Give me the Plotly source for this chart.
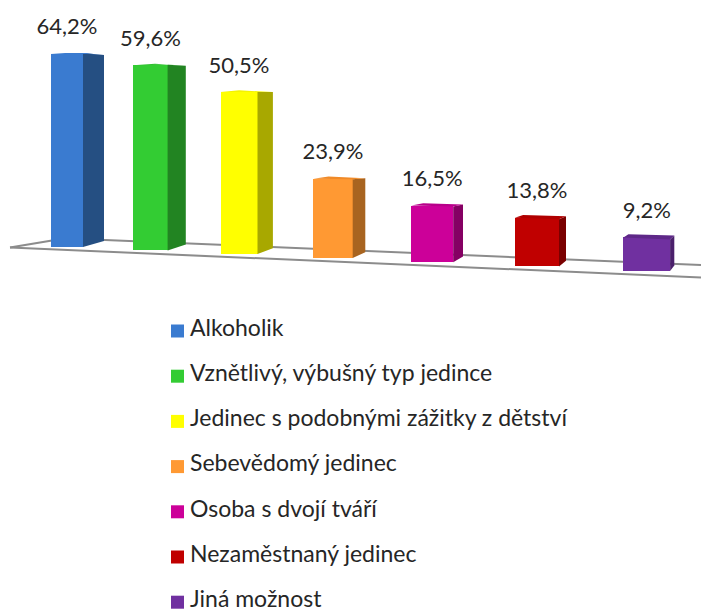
import plotly.graph_objects as go

categories = ["Alkoholik", "Vznětlivý, výbušný typ jedince", "Jedinec s podobnými zážitky z dětství",
              "Sebevědomý jedinec", "Osoba s dvojí tváří", "Nezaměstnaný jedinec", "Jiná možnost"]
values = [64.2, 59.6, 50.5, 23.9, 16.5, 13.8, 9.2]
labels = ["64,2%", "59,6%", "50,5%", "23,9%", "16,5%", "13,8%", "9,2%"]
front_colors = ["#3A7BD0", "#33CC33", "#FFFF00", "#FF9933", "#CC0099", "#C00000", "#7030A0"]
side_colors = ["#254F82", "#228422", "#A8A800", "#A86420", "#850063", "#7A0000", "#4B206C"]
top_colors = ["#3A7BD0", "#30C030", "#F4F400", "#F08A28", "#B8008A", "#B00000", "#5E2888"]


# perspective projection of the floor and bars, in page pixels
def left(i):
    return 51 + 79.5 * i + 2.65 * i * i


def width(i):
    return 32 + 2.45 * i


def depth(i):
    return max(21 - 2.8 * i, 4)


def floor_y(x):
    return 246 + 0.042 * (x - 51)


def px_per_pct(i):
    return 3.0 + 0.1 * i


fig = go.Figure()
centers, widths, bases, heights = [], [], [], []
for i, v in enumerate(values):
    xl = left(i)
    w = width(i)
    y0 = floor_y(xl)
    h = v * px_per_pct(i)
    centers.append(xl + w / 2)
    widths.append(w)
    bases.append(y0 + 0.5)
    heights.append(-h)

fig.add_trace(go.Bar(x=centers, y=heights, base=bases, width=widths,
                     marker=dict(color=front_colors, line=dict(width=0)),
                     showlegend=False, hoverinfo="skip"))

for i, v in enumerate(values):
    xl = left(i)
    w = width(i)
    d = depth(i)
    xr = xl + w
    y0 = floor_y(xl) + 0.5
    top = y0 - v * px_per_pct(i)
    slant = -1 + 0.5 * i
    rise = 1 + 0.35 * i
    # side face
    fig.add_trace(go.Scatter(x=[xr, xr + d, xr + d, xr, xr],
                             y=[top + slant, top + 1 - 0.5 * i, y0 - 5.5 + 0.4 * i / 6, y0 + 0.5, top + slant],
                             mode="lines", fill="toself", fillcolor=side_colors[i],
                             line=dict(width=0), showlegend=False, hoverinfo="skip"))
    # top face
    fig.add_trace(go.Scatter(x=[xl, xl + d * 1.2, xr + d, xr, xl],
                             y=[top, top - rise, top + 1 - 0.5 * i, top + slant, top],
                             mode="lines", fill="toself", fillcolor=top_colors[i],
                             line=dict(width=0), showlegend=False, hoverinfo="skip"))

fig.add_trace(go.Scatter(x=centers, y=[b + h - 25 for b, h in zip(bases, heights)],
                         mode="text", text=labels, textposition="middle center",
                         textfont=dict(family="Lato", size=22, color="#262626"),
                         showlegend=False, hoverinfo="skip"))

legend_y = [331 + 45.2 * i for i in range(len(categories))]
fig.add_trace(go.Scatter(x=[177.5] * len(categories), y=legend_y, mode="markers",
                         marker=dict(symbol="square", size=13, color=front_colors, line=dict(width=0)),
                         showlegend=False, hoverinfo="skip"))
fig.add_trace(go.Scatter(x=[190] * len(categories), y=[y - 1 for y in legend_y], mode="text", text=categories,
                         textposition="middle right",
                         textfont=dict(family="Lato", size=23, color="#262626"),
                         showlegend=False, hoverinfo="skip"))

floor_line = dict(color="#8C8C8C", width=2)
fig.update_layout(
    width=701, height=612, margin=dict(l=0, r=0, t=0, b=0),
    paper_bgcolor="white", plot_bgcolor="white", bargap=0,
    xaxis=dict(range=[0, 701], visible=False, fixedrange=True),
    yaxis=dict(range=[612, 0], visible=False, fixedrange=True),
    shapes=[
        dict(type="line", xref="x", yref="y", layer="below", x0=10, y0=247.5, x1=701, y1=277.5, line=floor_line),
        dict(type="line", xref="x", yref="y", layer="below", x0=10, y0=247.5, x1=55, y1=240, line=floor_line),
        dict(type="line", xref="x", yref="y", layer="below", x0=55, y0=240, x1=105, y1=240, line=floor_line),
        dict(type="line", xref="x", yref="y", layer="below", x0=105, y0=240, x1=701, y1=265, line=floor_line),
    ],
)
fig.write_html("out.html", post_script="document.body.style.margin='0';", config={"displayModeBar": False})
